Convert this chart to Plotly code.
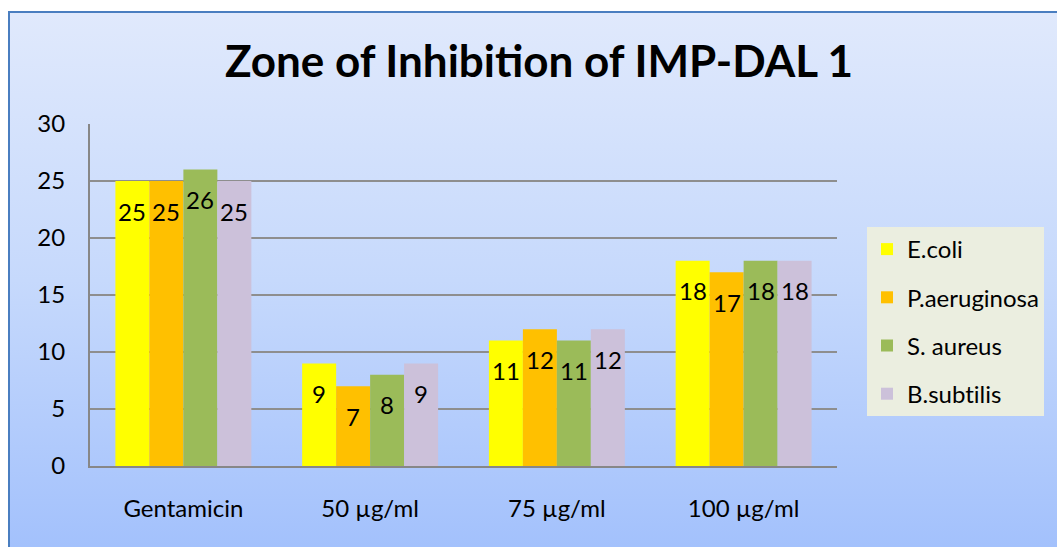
import base64
import plotly.graph_objects as go

# Zone of inhibition (mm) per test organism
categories = ["Gentamicin", "50 µg/ml", "75 µg/ml", "100 µg/ml"]
# the zero-width non-joiner keeps Lato from fusing "ti" into a ligature
organisms = ["E.coli", "P.aeruginosa", "S. aureus", "B.subt\u200cilis"]
ecoli = [25, 9, 11, 18]
paeruginosa = [25, 7, 12, 17]
saureus = [26, 8, 11, 18]
bsubtilis = [25, 9, 12, 18]
y_ticks = [0, 5, 10, 15, 20, 25, 30]

series = [ecoli, paeruginosa, saureus, bsubtilis]
colors = ["#FFFF00", "#FFC000", "#9BBB59", "#CCC1DA"]

W, H = 1057, 547
L, R, T, B = 90, 220, 124, 81
pw, ph = W - L - R, H - T - B

font = "Lato"
fs = 24
bar_w = 0.182
start = -2 * bar_w

x_pos = list(range(len(categories)))

fig = go.Figure()
annotations = []
for k, (name, vals, col) in enumerate(zip(organisms, series, colors)):
    off = start + k * bar_w
    fig.add_trace(go.Bar(
        x=x_pos, y=vals, name=name, width=bar_w, offset=off,
        marker=dict(color=col, line=dict(width=0)),
        legendgroup=name, hoverinfo="x+y+name",
    ))
    for xi, v in zip(x_pos, vals):
        annotations.append(dict(
            x=xi + off + bar_w / 2, y=v, xref="x", yref="y",
            text=str(v), showarrow=False, yshift=-30, yanchor="middle",
            font=dict(family=font, size=fs, color="#000000"),
        ))


def px_x(p):
    return (p - L) / pw


def px_y(p):
    return (H - B - p) / ph


# vertical blue gradient behind the chart area
svg = (
    '<svg xmlns="http://www.w3.org/2000/svg" width="100" height="100" preserveAspectRatio="none">'
    '<defs><linearGradient id="g" x1="0" y1="0" x2="0" y2="1">'
    '<stop offset="0" stop-color="#E0E9FC"/>'
    '<stop offset="0.5" stop-color="#C6D9FC"/>'
    '<stop offset="1" stop-color="#A3C1FC"/>'
    '</linearGradient></defs>'
    '<rect width="100" height="100" fill="url(#g)"/></svg>'
)
src = "data:image/svg+xml;base64," + base64.b64encode(svg.encode()).decode()

fig.add_layout_image(dict(
    source=src, xref="paper", yref="paper",
    x=px_x(9), y=px_y(13), sizex=(W - 9) / pw, sizey=(H - 13) / ph,
    xanchor="left", yanchor="top", sizing="stretch", layer="below",
))

fig.add_shape(
    type="rect", xref="paper", yref="paper",
    x0=px_x(9), x1=px_x(W + 10), y0=px_y(12), y1=px_y(H + 10),
    line=dict(color="#4A7EC0", width=2), fillcolor="rgba(0,0,0,0)",
    layer="above",
)

fig.update_layout(
    width=W, height=H,
    margin=dict(l=L, r=R, t=T, b=B),
    paper_bgcolor="#FFFFFF",
    plot_bgcolor="rgba(0,0,0,0)",
    barmode="overlay",
    title=dict(
        text="<b>Zone of Inhibi\u200ction of IMP-DAL 1</b>",
        x=539 / W, xanchor="center", y=1 - 62 / H, yanchor="middle",
        xref="container", yref="container",
        font=dict(family=font, size=44, color="#000000"),
    ),
    xaxis=dict(
        range=[-0.5, len(categories) - 0.5],
        tickvals=x_pos, ticktext=categories,
        showgrid=False, zeroline=False,
        showline=True, linecolor="#878787", linewidth=2,
        ticks="", ticklabelstandoff=20,
        tickfont=dict(family=font, size=fs, color="#000000"),
        fixedrange=True,
    ),
    yaxis=dict(
        range=[0, 30], tickvals=y_ticks,
        showgrid=True, gridcolor="#8E8E8E", gridwidth=1.5,
        zeroline=False,
        showline=True, linecolor="#878787", linewidth=2,
        ticks="", ticklabelstandoff=18,
        tickfont=dict(family=font, size=fs, color="#000000"),
        fixedrange=True,
    ),
    legend=dict(
        x=px_x(867), y=px_y(227), xanchor="left", yanchor="top",
        bgcolor="#EBEEE0", borderwidth=0,
        font=dict(family=font, size=fs, color="#000000"),
        tracegroupgap=14, traceorder="grouped",
    ),
    annotations=annotations,
    showlegend=True,
)

fig.write_html("out.html")
